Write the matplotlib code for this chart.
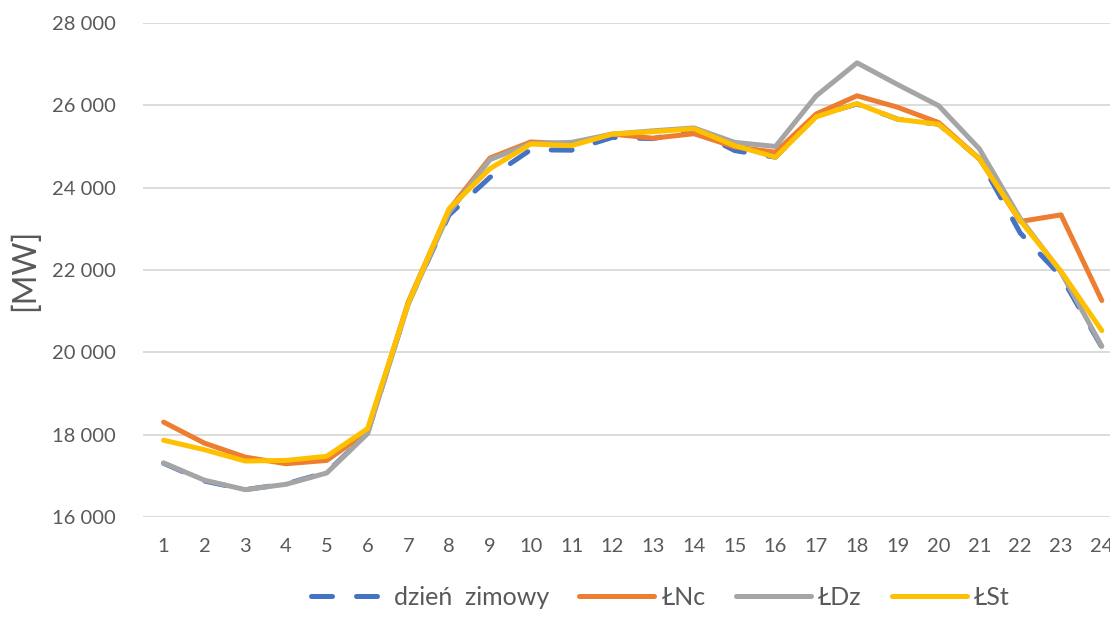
import matplotlib
matplotlib.use('Agg')
import matplotlib.pyplot as plt
from matplotlib.ticker import FuncFormatter

plt.rcParams['font.family'] = ['Lato', 'DejaVu Sans']

# Hours of the day
hours = list(range(1, 25))

# Hourly load [MW]
dzien_zimowy = [17310, 16880, 16670, 16810, 17090, 18040, 21200, 23340, 24250, 24920,
                24910, 25220, 25190, 25400, 24900, 24740, 25750, 26030, 25660, 25540,
                24700, 22900, 21850, 20130]
lnc = [18310, 17800, 17460, 17300, 17380, 18080, 21230, 23470, 24720, 25110,
       25060, 25300, 25200, 25310, 24990, 24860, 25790, 26230, 25950, 25580,
       24700, 23180, 23340, 21260]
ldz = [17320, 16900, 16670, 16800, 17075, 18030, 21180, 23400, 24680, 25070,
       25100, 25300, 25380, 25450, 25100, 25000, 26230, 27030, 26500, 25990,
       24940, 23250, 21950, 20150]
lst = [17870, 17640, 17365, 17380, 17480, 18150, 21200, 23490, 24460, 25060,
       25020, 25300, 25360, 25430, 25020, 24740, 25720, 26040, 25660, 25540,
       24700, 23200, 21970, 20530]

fig = plt.figure(figsize=(11.1, 6.18), dpi=100)
ax = fig.add_axes([0.129, 0.163, 0.882, 0.80])

ax.plot(hours, dzien_zimowy, color='#4472C4', lw=3.6, linestyle=(0, (4.2, 4.8)),
        dash_capstyle='round', label='dzień  zimowy')
ax.plot(hours, lnc, color='#ED7D31', lw=3.6, solid_capstyle='round', label='ŁNc')
ax.plot(hours, ldz, color='#A5A5A5', lw=3.6, solid_capstyle='round', label='ŁDz')
ax.plot(hours, lst, color='#FFC000', lw=3.6, solid_capstyle='round', label='ŁSt')

ax.set_xlim(0.5, 24.5)
ax.set_ylim(16000, 28000)
ax.set_yticks(range(16000, 28001, 2000))
ax.set_xticks(hours)
ax.yaxis.set_major_formatter(FuncFormatter(lambda v, p: f'{int(v):,}'.replace(',', ' ')))

ax.grid(axis='y', color='#D9D9D9', lw=1.3)
ax.set_axisbelow(True)
for s in ax.spines.values():
    s.set_visible(False)
ax.tick_params(length=0, labelsize=14.5, colors='#595959')
ax.tick_params(axis='x', pad=15)
ax.tick_params(axis='y', pad=20)

ax.set_ylabel('[MW]', fontsize=23, color='#595959', labelpad=8)

fig.legend(loc='lower center', bbox_to_anchor=(0.595, -0.022), ncol=4, frameon=False,
           fontsize=18, labelcolor='#595959', handlelength=3.0, columnspacing=1.2,
           handletextpad=0.3)

plt.savefig('out.png', dpi=100)
